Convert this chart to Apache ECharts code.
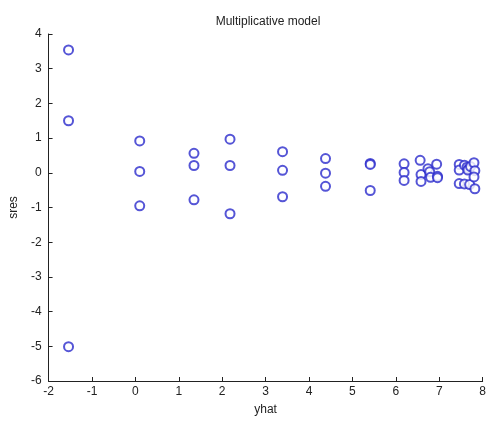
<!DOCTYPE html>
<html><head><meta charset="utf-8">
<script src="https://cdn.jsdelivr.net/npm/echarts@6/dist/echarts.min.js"></script>
<style>html,body{margin:0;padding:0;background:#fff}#c{width:489px;height:421px}</style>
</head><body><div id="c"></div>
<script>
const titleText = 'Multiplicative model';
const xName = 'yhat';
const yName = 'sres';
const yhat = [-1.54,-1.54,-1.54, 0.10,0.10,0.10, 1.35,1.35,1.35, 2.18,2.18,2.18, 3.39,3.39,3.39, 4.38,4.38,4.38, 5.41,5.41,5.41,
  6.19,6.19,6.19, 6.56,6.58,6.58, 6.74,6.78,6.80, 6.94,6.96,6.96,
  7.46,7.46,7.46, 7.58,7.58, 7.64,7.68,7.70, 7.66,7.72, 7.80,7.82,7.80,7.82];
const sres = [3.54,1.50,-5.01, 0.92,0.04,-0.95, 0.56,0.21,-0.78, 0.97,0.21,-1.18, 0.61,0.07,-0.69, 0.41,-0.01,-0.39, 0.27,0.24,-0.51,
  0.26,0.01,-0.22, 0.36,-0.05,-0.25, 0.12,0.03,-0.13, 0.25,-0.10,-0.14,
  0.24,0.08,-0.31, 0.22,-0.32, 0.16,0.12,-0.34, 0.08,0.18, 0.29,0.06,-0.12,-0.46];
const data = yhat.map((x,i)=>[x,sres[i]]);
const chart = echarts.init(document.getElementById('c'), null, {renderer:'canvas'});
const font = 'Liberation Sans, Arial, sans-serif';
chart.setOption({
  animation:false,
  backgroundColor:'#fff',
  title:{text:titleText,left:263,top:11,textAlign:'center',textStyle:{fontFamily:font,fontSize:12,fontWeight:'normal',color:'#222'}},
  grid:{left:44,right:5,top:34,bottom:40},
  xAxis:{type:'value',min:-2,max:8,interval:1,name:xName,nameLocation:'middle',nameGap:23,
    nameTextStyle:{fontFamily:font,fontSize:12,color:'#222'},
    axisLine:{onZero:false,lineStyle:{color:'#222',width:1}},axisTick:{inside:true,length:4,lineStyle:{color:'#222'}},
    axisLabel:{fontFamily:font,fontSize:12,color:'#222',margin:5},splitLine:{show:false}},
  yAxis:{type:'value',min:-6,max:4,interval:1,name:yName,nameLocation:'middle',nameGap:28,
    nameTextStyle:{fontFamily:font,fontSize:12,color:'#222'},
    axisLine:{show:true,onZero:false,lineStyle:{color:'#222',width:1}},axisTick:{show:true,inside:true,length:4,lineStyle:{color:'#222'}},
    axisLabel:{fontFamily:font,fontSize:12,color:'#222',margin:7},splitLine:{show:false}},
  series:[{type:'scatter',data:data,symbol:'emptyCircle',symbolSize:9,
    itemStyle:{color:'#2a2acc',borderColor:'#2a2acc',borderWidth:1}}]
});
</script></body></html>
